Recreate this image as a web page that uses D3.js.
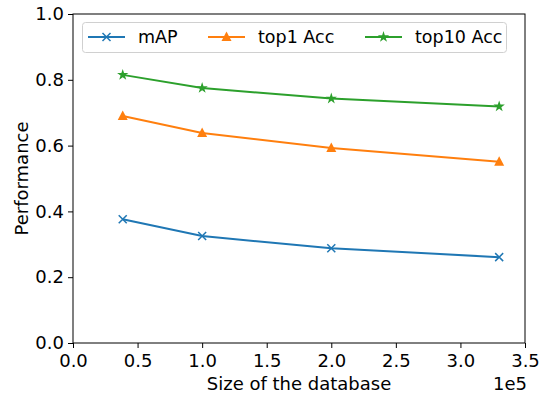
<!DOCTYPE html>
<html>
<head>
<style type="text/css">
	body{ margin:0; background:#fff; }
	svg text{ font-family:"DejaVu Sans", sans-serif; fill:#000; }
</style>
</head>
<body>
<div id="chart"></div>
<script src="https://cdn.jsdelivr.net/npm/d3@7"></script>
<script>
	// values
	var sizes = [38500, 100000, 200000, 330000];
	var mAP = [0.376, 0.325, 0.288, 0.261];
	var top1 = [0.690, 0.638, 0.593, 0.551];
	var top10 = [0.815, 0.775, 0.743, 0.719];
	var seriesNames = ['mAP', 'top1 Acc', 'top10 Acc'];
	var xTicks = [0, 0.5e5, 1e5, 1.5e5, 2e5, 2.5e5, 3e5, 3.5e5];
	var yTicks = [0, 0.2, 0.4, 0.6, 0.8, 1.0];

	var W = 543, H = 394;
	var pLeft = 73, pRight = 525, pTop = 14, pBottom = 343;

	var svg = d3.select('#chart').append('svg')
		.attr('width', W).attr('height', H);

	var x = d3.scaleLinear().domain([0, 3.5e5]).range([pLeft, pRight]);
	var y = d3.scaleLinear().domain([0, 1]).range([pBottom, pTop]);

	var series = [
		{ name: seriesNames[0], vals: mAP, color: '#1f77b4', marker: 'x' },
		{ name: seriesNames[1], vals: top1, color: '#ff7f0e', marker: 'tri' },
		{ name: seriesNames[2], vals: top10, color: '#2ca02c', marker: 'star' }
	];

	// axes
	var xAxis = d3.axisBottom(x).tickValues(xTicks).tickSize(5).tickPadding(4)
		.tickFormat(function(d){ return (d / 1e5).toFixed(1); });
	var yAxis = d3.axisLeft(y).tickValues(yTicks).tickSize(5).tickPadding(4)
		.tickFormat(d3.format('.1f'));

	var gx = svg.append('g').attr('transform', 'translate(0,' + pBottom + ')').call(xAxis);
	var gy = svg.append('g').attr('transform', 'translate(' + pLeft + ',0)').call(yAxis);
	[gx, gy].forEach(function(g){
		g.selectAll('text').style('font-size', '18px');
		g.select('.domain').remove();
		g.selectAll('line').attr('stroke', '#000').attr('stroke-width', 1);
	});
	gx.selectAll('text').attr('dy', '0.85em');

	// frame
	svg.append('rect')
		.attr('x', pLeft).attr('y', pTop)
		.attr('width', pRight - pLeft).attr('height', pBottom - pTop)
		.attr('fill', 'none').attr('stroke', '#000').attr('stroke-width', 1);

	svg.append('text').attr('x', (pLeft + pRight) / 2).attr('y', 390)
		.attr('text-anchor', 'middle').style('font-size', '18px')
		.text('Size of the database');
	svg.append('text').attr('x', pRight + 2).attr('y', 390)
		.attr('text-anchor', 'end').style('font-size', '18px')
		.text('1e5');
	svg.append('text')
		.attr('transform', 'translate(28,' + ((pTop + pBottom) / 2) + ') rotate(-90)')
		.attr('text-anchor', 'middle').style('font-size', '18px')
		.text('Performance');

	function drawMarker(g, type, color){
		if( type == 'x' ){
			g.append('path').attr('d', 'M-4,-4L4,4M-4,4L4,-4')
				.attr('stroke', color).attr('stroke-width', 1.5).attr('fill', 'none');
		}else if( type == 'tri' ){
			g.append('path').attr('d', 'M0,-5.5L5,4L-5,4Z').attr('fill', color);
		}else{
			g.append('path').attr('d', d3.symbol().type(d3.symbolStar).size(40)())
				.attr('fill', color);
		}
	}

	var line = d3.line()
		.x(function(d, i){ return x(sizes[i]); })
		.y(function(d){ return y(d); });

	series.forEach(function(s){
		svg.append('path').datum(s.vals)
			.attr('d', line)
			.attr('fill', 'none').attr('stroke', s.color).attr('stroke-width', 2);
		s.vals.forEach(function(v, i){
			var g = svg.append('g').attr('transform', 'translate(' + x(sizes[i]) + ',' + y(v) + ')');
			drawMarker(g, s.marker, s.color);
		});
	});

	// legend
	var lg = svg.append('g');
	lg.append('rect').attr('x', 82.5).attr('y', 22.5).attr('width', 424).attr('height', 30)
		.attr('rx', 3).attr('fill', '#fff').attr('fill-opacity', 0.8)
		.attr('stroke', '#d0d0d0').attr('stroke-width', 1);
	var handleX = [88, 208, 365];
	series.forEach(function(s, i){
		var hx = handleX[i];
		lg.append('line').attr('x1', hx).attr('x2', hx + 37).attr('y1', 37).attr('y2', 37)
			.attr('stroke', s.color).attr('stroke-width', 2);
		var g = lg.append('g').attr('transform', 'translate(' + (hx + 18.5) + ',37)');
		drawMarker(g, s.marker, s.color);
		lg.append('text').attr('x', hx + 50).attr('y', 37).attr('dy', '0.35em')
			.style('font-size', '17.5px').text(s.name);
	});
</script>
</body>
</html>
